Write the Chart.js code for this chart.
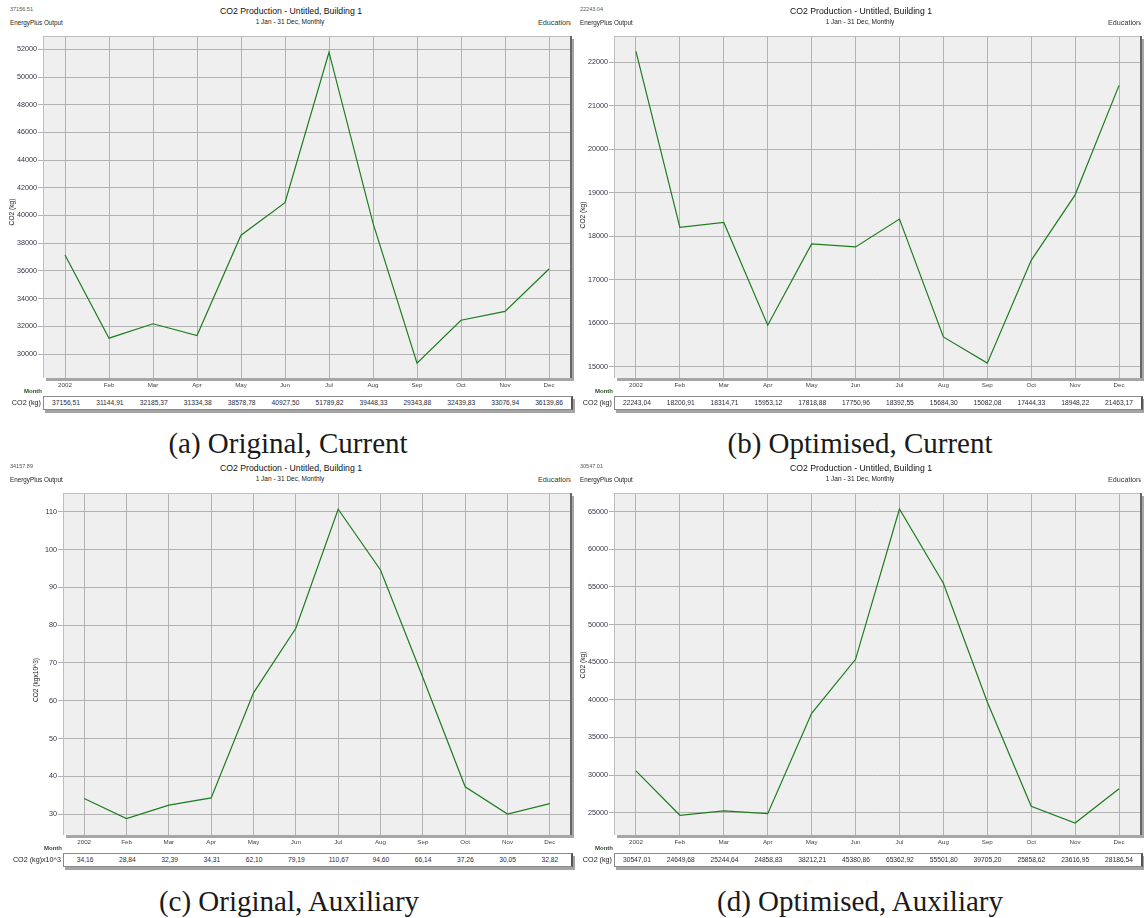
<!DOCTYPE html>
<html>
<head>
<meta charset="utf-8">
<script src="https://cdn.jsdelivr.net/npm/chart.js@4.4.1/dist/chart.umd.min.js"></script>
<style>
  html, body { margin: 0; padding: 0; background: #fff; }
  body { width: 1144px; height: 918px; position: relative; overflow: hidden; font-family: "Liberation Sans", Arial, sans-serif; color: #222; }
  .t { position: absolute; white-space: nowrap; line-height: 1; }
  canvas { position: absolute; }
  .clip { position: absolute; overflow: hidden; height: 12px; }
  .row { position: absolute; display: flex; background: #fff; border: 1px solid #8a8a8a; border-right: 2px solid #555; box-shadow: 2px 3px 0 #a4a4a4; box-sizing: border-box; }
  .row div { flex: 1; text-align: center; font-size: 6.7px; line-height: 12px; color: #2a2a3a; }
  .cap { position: absolute; font-family: "Liberation Serif", serif; font-size: 29px; color: #1a1a1a; white-space: nowrap; line-height: 1; transform: translateX(-50%); }
</style>
</head>
<body>
<script>
// monthly CO2 values
const months = ['2002', 'Feb', 'Mar', 'Apr', 'May', 'Jun', 'Jul', 'Aug', 'Sep', 'Oct', 'Nov', 'Dec'];
const origCurrent = [37156.51, 31144.91, 32185.37, 31334.38, 38578.78, 40927.50, 51789.82, 39448.33, 29343.88, 32439.83, 33076.94, 36139.86];
const optCurrent = [22243.04, 18200.91, 18314.71, 15953.12, 17818.88, 17750.96, 18392.55, 15684.30, 15082.08, 17444.33, 18948.22, 21463.17];
const origAux = [34.16, 28.84, 32.39, 34.31, 62.10, 79.19, 110.67, 94.60, 66.14, 37.26, 30.05, 32.82];
const optAux = [30547.01, 24649.68, 25244.64, 24858.83, 38212.21, 45380.86, 65362.92, 55501.80, 39705.20, 25858.62, 23616.95, 28186.54];

const ticksA = [30000, 32000, 34000, 36000, 38000, 40000, 42000, 44000, 46000, 48000, 50000, 52000];
const ticksB = [15000, 16000, 17000, 18000, 19000, 20000, 21000, 22000];
const ticksC = [30, 40, 50, 60, 70, 80, 90, 100, 110];
const ticksD = [25000, 30000, 35000, 40000, 45000, 50000, 55000, 60000, 65000];

const headerValues = ['37156.51', '22243.04', '34157.89', '30547.01'];
const captions = ['(a) Original, Current', '(b) Optimised, Current', '(c) Original, Auxiliary', '(d) Optimised, Auxiliary'];
const yTitles = ['CO2 (kg)', 'CO2 (kg)', 'CO2 (kgx10^3)', 'CO2 (kg)'];
const rowLabels = ['CO2 (kg)', 'CO2 (kg)', 'CO2 (kg)x10^3', 'CO2 (kg)'];

const panels = [
    { x0: 0, y0: 0, cx: 0, plotLeft: 43, plotRight: 571, yMin: 28270, yMax: 52960, ticks: ticksA, values: origCurrent, tx: 12, ty: 212, capX: 288, capY: 443 },
    { x0: 570, y0: 0, cx: 572, plotLeft: 614, plotRight: 1141, yMin: 14740, yMax: 22598, ticks: ticksB, values: optCurrent, tx: 583, ty: 215, capX: 860, capY: 443 },
    { x0: 0, y0: 457, cx: 0, plotLeft: 63, plotRight: 571, yMin: 24.5, yMax: 114.96, ticks: ticksC, values: origAux, tx: 36, ty: 680, capX: 289, capY: 901 },
    { x0: 570, y0: 457, cx: 572, plotLeft: 614, plotRight: 1141, yMin: 22030, yMax: 67490, ticks: ticksD, values: optAux, tx: 583, ty: 665, capX: 860, capY: 901 }
];

function label(text, x, y, size, align, extra) {
    const d = document.createElement('div');
    d.className = 't';
    d.textContent = text;
    d.style.fontSize = size + 'px';
    d.style.left = x + 'px';
    d.style.top = (y - size / 2) + 'px';
    const tx = align === 'center' ? '-50%' : align === 'right' ? '-100%' : '0';
    d.style.transform = 'translateX(' + tx + ')';
    Object.assign(d.style, extra || {});
    document.body.appendChild(d);
    return d;
}

// grey plot background, drop shadow and frame like the EnergyPlus charts
const frame = {
    id: 'frame',
    beforeDraw(chart) {
        const { ctx, chartArea: a } = chart;
        ctx.save();
        ctx.fillStyle = '#a6a6a6';
        ctx.fillRect(a.left + 3, a.bottom, a.right - a.left, 3);
        ctx.fillRect(a.right, a.top + 3, 3, a.bottom - a.top);
        ctx.fillStyle = '#eeefee';
        ctx.fillRect(a.left, a.top, a.right - a.left, a.bottom - a.top);
        ctx.restore();
    },
    afterDraw(chart) {
        const { ctx, chartArea: a } = chart;
        ctx.save();
        ctx.lineWidth = 1;
        ctx.strokeStyle = '#bdbdbd';
        ctx.beginPath();
        ctx.moveTo(a.left, a.top + 0.5); ctx.lineTo(a.right, a.top + 0.5);
        ctx.moveTo(a.left + 0.5, a.top); ctx.lineTo(a.left + 0.5, a.bottom);
        ctx.stroke();
        ctx.strokeStyle = '#666';
        ctx.lineWidth = 2;
        ctx.beginPath();
        ctx.moveTo(a.right, a.top); ctx.lineTo(a.right, a.bottom);
        ctx.stroke();
        ctx.restore();
    }
};

function drawPanel(p, i) {
    const height = 365;
    const width = Math.min(p.plotRight + 9, 1144) - p.cx;
    const cv = document.createElement('canvas');
    cv.width = width;
    cv.height = height;
    cv.style.left = p.cx + 'px';
    cv.style.top = (p.y0 + 30) + 'px';
    document.body.appendChild(cv);

    new Chart(cv, {
        type: 'line',
        data: {
            labels: months,
            datasets: [{
                data: p.values,
                borderColor: '#1e7d1e',
                borderWidth: 1.2,
                pointRadius: 0,
                tension: 0
            }]
        },
        options: {
            animation: false,
            responsive: false,
            devicePixelRatio: 1,
            layout: { padding: { left: 0, top: 6, right: width - (p.plotRight - p.cx), bottom: 0 } },
            plugins: { legend: { display: false }, tooltip: { enabled: false } },
            scales: {
                x: {
                    offset: true,
                    grid: { offset: false, color: '#b2b2b2', drawTicks: false },
                    border: { display: false },
                    ticks: { font: { family: 'Liberation Sans', size: 6.2 }, color: '#444', padding: 4, maxRotation: 0, autoSkip: false },
                    afterFit(s) { s.height = height - 6 - 342; }
                },
                y: {
                    min: p.yMin,
                    max: p.yMax,
                    grid: { color: '#b2b2b2', tickLength: 5 },
                    border: { display: false },
                    ticks: { font: { family: 'Liberation Sans', size: 7.2 }, color: '#333348', padding: 1, callback: v => String(v) },
                    afterBuildTicks(s) { s.ticks = p.ticks.map(v => ({ value: v })); },
                    afterFit(s) { s.width = p.plotLeft - p.cx; }
                }
            }
        },
        plugins: [frame]
    });

    // header texts
    label(headerValues[i], p.x0 + 10, p.y0 + 10, 5.5, 'left', { color: '#555' });
    label('EnergyPlus Output', p.x0 + 10, p.y0 + 23, 6.3, 'left');
    label('CO2 Production - Untitled, Building 1', p.x0 + 291, p.y0 + 11, 8.7, 'center', { color: '#111' });
    label('1 Jan - 31 Dec, Monthly', p.x0 + 290, p.y0 + 22.5, 6.5, 'center');
    const clip = document.createElement('div');
    clip.className = 'clip';
    clip.style.left = (p.x0 + 538) + 'px';
    clip.style.top = (p.y0 + 18) + 'px';
    clip.style.width = (Math.min(p.x0 + 571, 1144) - (p.x0 + 538)) + 'px';
    const edu = document.createElement('div');
    edu.className = 't';
    edu.style.fontSize = '7.2px';
    edu.style.top = '1px';
    edu.style.color = '#333';
    edu.textContent = 'Educational Building';
    clip.appendChild(edu);
    document.body.appendChild(clip);

    // rotated y axis title
    const yt = document.createElement('div');
    yt.className = 't';
    yt.textContent = yTitles[i];
    yt.style.fontSize = '6.6px';
    yt.style.left = p.tx + 'px';
    yt.style.top = p.ty + 'px';
    yt.style.transform = 'translate(-50%, -50%) rotate(-90deg)';
    document.body.appendChild(yt);

    // data table under the plot
    label('Month', p.plotLeft - 1, p.y0 + 391, 6, 'right', { fontWeight: 'bold', color: '#2f4a2f' });
    label(rowLabels[i], p.plotLeft - 2, p.y0 + 403, 7.2, 'right', { color: '#222' });
    const row = document.createElement('div');
    row.className = 'row';
    row.style.left = p.plotLeft + 'px';
    row.style.top = (p.y0 + 396) + 'px';
    row.style.width = (p.plotRight - p.plotLeft + 2) + 'px';
    row.style.height = '14px';
    p.values.forEach(v => {
        const c = document.createElement('div');
        c.textContent = v.toFixed(2).replace('.', ',');
        row.appendChild(c);
    });
    document.body.appendChild(row);

    const cap = document.createElement('div');
    cap.className = 'cap';
    cap.textContent = captions[i];
    cap.style.left = p.capX + 'px';
    cap.style.top = (p.capY - 14.5) + 'px';
    document.body.appendChild(cap);
}

panels.forEach(drawPanel);
</script>
</body>
</html>
